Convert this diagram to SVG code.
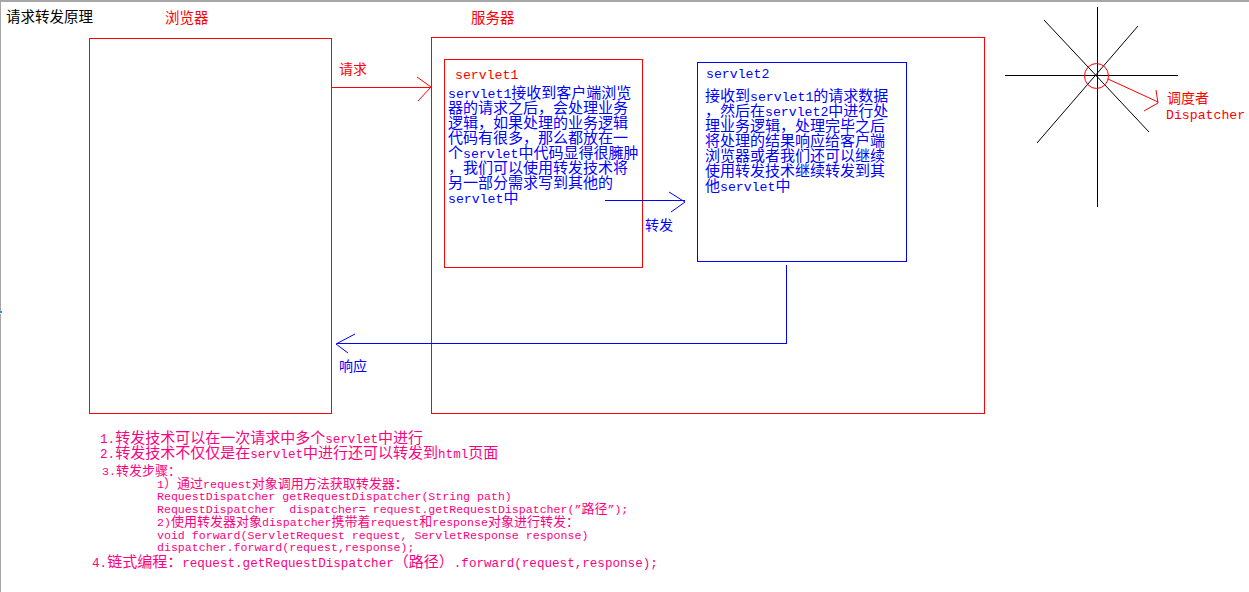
<svg xmlns="http://www.w3.org/2000/svg" width="1249" height="592" viewBox="0 0 1249 592">
  <style>
    text { font-family: "Liberation Mono", "Noto Sans CJK SC", monospace; }
    .cjk { font-family: "Noto Sans CJK SC", "Liberation Sans", sans-serif; font-size: 14.5px; }
    .red { fill: #ff0000; }
    .blue { fill: #0000ff; }
    .pink { fill: #ff0080; }
    .box { fill: none; stroke-width: 1; shape-rendering: crispEdges; }
    .rs { stroke: #ff0000; }
    .bs { stroke: #0000ff; }
    .ks { stroke: #000000; }
    .wire { fill: none; stroke-width: 1; }
    .crisp { shape-rendering: crispEdges; }
    .body { font-size: 15px; }
    .body .l, .tag { font-size: 13.2px; }
    .n15 { font-size: 15px; }
    .n15 .l { font-size: 12.6px; }
    .n13 { font-size: 13px; }
    .n13 .l, .n13l { font-size: 11.6px; }
  </style>

  <!-- window frame -->
  <rect x="0" y="0" width="1249" height="2" fill="#a6a6a6"/>
  <rect x="0" y="0" width="1" height="311" fill="#a6a6a6"/>
  <rect x="0" y="311" width="2" height="2" fill="#1e8fff"/>
  <rect x="0" y="314" width="1" height="278" fill="#a6a6a6"/>

  <text class="cjk" x="6" y="22" fill="#000">请求转发原理</text>

  <!-- browser -->
  <g id="browser">
    <text class="cjk red" x="165" y="23">浏览器</text>
    <rect class="box rs" x="89.5" y="38.5" width="242" height="375"/>
  </g>

  <!-- server -->
  <g id="server">
    <text class="cjk red" x="471" y="23">服务器</text>
    <rect class="box rs" x="431.5" y="37.5" width="553" height="376"/>
  </g>

  <!-- servlet1 -->
  <g id="servlet1">
    <rect class="box rs" x="444.5" y="59.5" width="198" height="208"/>
    <text class="tag red" x="455" y="79">servlet1</text>
    <text class="body blue">
      <tspan x="448" y="98"><tspan class="l">servlet1</tspan>接收到客户端浏览</tspan>
      <tspan x="448" y="113">器的请求之后，会处理业务</tspan>
      <tspan x="448" y="128">逻辑，如果处理的业务逻辑</tspan>
      <tspan x="448" y="143">代码有很多，那么都放在一</tspan>
      <tspan x="448" y="158">个<tspan class="l">servlet</tspan>中代码显得很臃肿</tspan>
      <tspan x="448" y="173">，我们可以使用转发技术将</tspan>
      <tspan x="448" y="188">另一部分需求写到其他的</tspan>
      <tspan x="448" y="203"><tspan class="l">servlet</tspan>中</tspan>
    </text>
  </g>

  <!-- servlet2 -->
  <g id="servlet2">
    <rect class="box bs" x="697.5" y="62.5" width="209" height="199"/>
    <text class="tag blue" x="706" y="78">servlet2</text>
    <text class="body blue">
      <tspan x="705" y="101">接收到<tspan class="l">servlet1</tspan>的请求数据</tspan>
      <tspan x="705" y="116">，然后在<tspan class="l">servlet2</tspan>中进行处</tspan>
      <tspan x="705" y="131">理业务逻辑，处理完毕之后</tspan>
      <tspan x="705" y="146">将处理的结果响应给客户端</tspan>
      <tspan x="705" y="161">浏览器或者我们还可以继续</tspan>
      <tspan x="705" y="176">使用转发技术继续转发到其</tspan>
      <tspan x="705" y="191">他<tspan class="l">servlet</tspan>中</tspan>
    </text>
  </g>

  <!-- dispatcher symbol -->
  <g id="dispatcher">
    <line class="wire ks crisp" x1="1097.5" y1="7" x2="1097.5" y2="207"/>
    <line class="wire ks crisp" x1="1005" y1="75.5" x2="1178" y2="75.5"/>
    <line class="wire ks" x1="1044" y1="20" x2="1149" y2="132"/>
    <line class="wire ks" x1="1138" y1="26" x2="1037" y2="143"/>
    <ellipse class="wire rs" cx="1096.5" cy="76" rx="12" ry="12.5"/>
    <line class="wire rs" x1="1108" y1="79" x2="1158" y2="102"/>
    <polyline class="wire rs" points="1156,90 1158,103 1144,111"/>
    <text class="cjk red" x="1167" y="103" style="font-size:14px">调度者</text>
    <text class="tag red" x="1166" y="119">Dispatcher</text>
  </g>

  <!-- connectors -->
  <g id="connectors">
    <!-- request -->
    <line class="wire rs crisp" x1="332" y1="87.5" x2="430" y2="87.5"/>
    <polyline class="wire rs" points="417,77 431,87 418,101"/>
    <text class="cjk red" x="339" y="74" style="font-size:14px">请求</text>
    <!-- forward -->
    <line class="wire bs crisp" x1="605" y1="200.5" x2="685" y2="200.5"/>
    <polyline class="wire bs" points="669,192 685,202 671,212"/>
    <text class="cjk blue" x="645" y="230" style="font-size:14px">转发</text>
    <!-- response -->
    <polyline class="wire bs crisp" points="786.5,265 786.5,343.5 337,343.5"/>
    <polyline class="wire bs" points="355,334 336,344 348,353"/>
    <text class="cjk blue" x="339" y="371" style="font-size:14px">响应</text>
  </g>

  <!-- notes -->
  <g id="notes" class="pink">
    <text class="n15">
      <tspan x="100" y="442.5"><tspan class="l">1.</tspan>转发技术可以在一次请求中多个<tspan class="l">servlet</tspan>中进行</tspan>
      <tspan x="100" y="458"><tspan class="l">2.</tspan>转发技术不仅仅是在<tspan class="l">servlet</tspan>中进行还可以转发到<tspan class="l">html</tspan>页面</tspan>
    </text>
    <text class="n13" x="102" y="475"><tspan class="l">3.</tspan>转发步骤：</text>
    <text class="n13" x="157" y="487.7"><tspan class="l">1</tspan>）通过<tspan class="l">request</tspan>对象调用方法获取转发器：</text>
    <text class="n13l" x="157" y="500.4">RequestDispatcher getRequestDispatcher(String path)</text>
    <text class="n13" x="157" y="513.1" xml:space="preserve"><tspan class="l">RequestDispatcher  dispatcher= request.getRequestDispatcher(”</tspan>路径<tspan class="l">”);</tspan></text>
    <text class="n13" x="157" y="525.8"><tspan class="l">2)</tspan>使用转发器对象<tspan class="l">dispatcher</tspan>携带着<tspan class="l">request</tspan>和<tspan class="l">response</tspan>对象进行转发：</text>
    <text class="n13l" x="157" y="538.5">void forward(ServletRequest request, ServletResponse response)</text>
    <text class="n13l" x="157" y="551.2">dispatcher.forward(request,response);</text>
    <text class="n15" x="92" y="567"><tspan class="l">4.</tspan>链式编程：<tspan class="l">request.getRequestDispatcher</tspan>（路径）<tspan class="l">.forward(request,response);</tspan></text>
  </g>
</svg>
